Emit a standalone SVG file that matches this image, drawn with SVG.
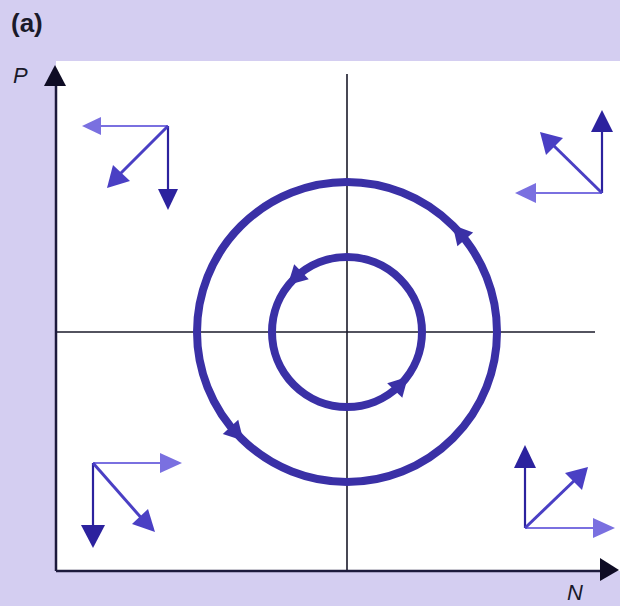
<svg xmlns="http://www.w3.org/2000/svg" width="620" height="606" viewBox="0 0 620 606">
<style>
.axis{stroke:#1c1a3c;stroke-width:2.5;fill:none}
.guide{stroke:#1a1a2a;stroke-width:1.6;fill:none}
.orbit{stroke:#3a30a6;stroke-width:8;fill:none}
.h{stroke:#7a70e0;stroke-width:2.2;fill:none}
.v{stroke:#2c229e;stroke-width:2.2;fill:none}
.d{stroke:#4a3fc4;stroke-width:3;fill:none}
.hh{fill:#7a70e0}
.vh{fill:#2c229e}
.dh{fill:#4a3fc4}
.oh{fill:#3a30a6}
.lbl{font-family:"Liberation Sans",Arial,sans-serif;fill:#1a1a2a}
</style>
<defs>
<polygon id="oa" points="10,0 -9,-10.5 -9,10.5"/>
</defs>
<rect x="0" y="0" width="620" height="606" fill="#d4cef1"/>
<rect x="56" y="61" width="564" height="510" fill="#ffffff"/>
<text class="lbl" x="11" y="32" font-size="26" font-weight="bold">(a)</text>
<text class="lbl" x="13" y="83" font-size="22" font-style="italic">P</text>
<text class="lbl" x="567" y="600" font-size="22" font-style="italic">N</text>
<g id="connectors">
<line class="guide" x1="347" y1="74" x2="347" y2="571"/>
<line class="guide" x1="56" y1="332" x2="595" y2="332"/>
<line class="axis" x1="56" y1="571" x2="56" y2="84"/>
<line class="axis" x1="56" y1="571" x2="602" y2="571"/>
<polygon fill="#0e0c24" points="55,65 44,86 66,86"/>
<polygon fill="#0e0c24" points="619,570 600,558 600,581"/>
</g>
<g id="outer-orbit">
<circle class="orbit" cx="347" cy="332" r="150"/>
<use href="#oa" class="oh" transform="translate(459.3,232.6) rotate(-131.5)"/>
<use href="#oa" class="oh" transform="translate(236.6,433.5) rotate(47.4)"/>
</g>
<g id="inner-orbit">
<circle class="orbit" cx="347" cy="332" r="75"/>
<use href="#oa" class="oh" transform="translate(295,278) rotate(136)"/>
<use href="#oa" class="oh" transform="translate(401,384) rotate(-46)"/>
</g>
<g id="vectors-top-left">
<line class="h" x1="168" y1="126" x2="100" y2="126"/>
<polygon class="hh" points="82,126 101,117 101,135"/>
<line class="v" x1="168" y1="126" x2="168" y2="192"/>
<polygon class="vh" points="168,210 158,189 178,189"/>
<line class="d" x1="168" y1="126" x2="118" y2="176"/>
<polygon class="dh" points="107,188 113,165 130,181"/>
</g>
<g id="vectors-top-right">
<line class="h" x1="602" y1="193" x2="535" y2="193"/>
<polygon class="hh" points="515,193 536,183 536,203"/>
<line class="v" x1="602" y1="193" x2="602" y2="130"/>
<polygon class="vh" points="602,110 591,132 613,132"/>
<line class="d" x1="602" y1="193" x2="551" y2="143"/>
<polygon class="dh" points="540,132 563,138 546,155"/>
</g>
<g id="vectors-bottom-left">
<line class="h" x1="93" y1="463" x2="162" y2="463"/>
<polygon class="hh" points="182,463 160,453 160,473"/>
<line class="v" x1="93" y1="463" x2="93" y2="528"/>
<polygon class="vh" points="93,548 81,525 105,525"/>
<line class="d" x1="93" y1="463" x2="144" y2="521"/>
<polygon class="dh" points="155,532 132,524 148,509"/>
</g>
<g id="vectors-bottom-right">
<line class="h" x1="525" y1="528" x2="595" y2="528"/>
<polygon class="hh" points="615,528 593,518 593,538"/>
<line class="v" x1="525" y1="528" x2="525" y2="466"/>
<polygon class="vh" points="525,445 514,468 536,468"/>
<line class="d" x1="525" y1="528" x2="577" y2="478"/>
<polygon class="dh" points="588,467 582,490 565,473"/>
</g>
</svg>
